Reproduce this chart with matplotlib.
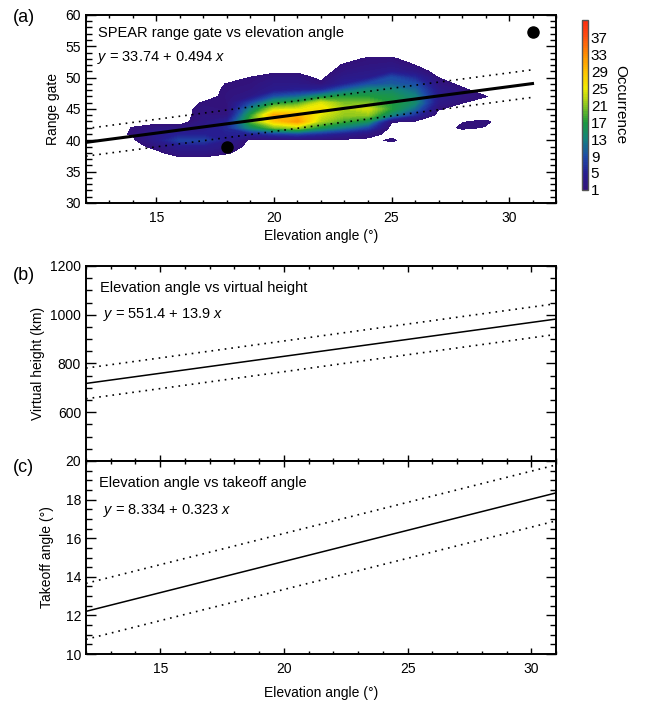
import numpy as np
import matplotlib
matplotlib.use("Agg")
import matplotlib.pyplot as plt
from matplotlib.colors import LinearSegmentedColormap
from matplotlib.ticker import MultipleLocator

plt.rcParams['font.family'] = ['Liberation Sans', 'DejaVu Sans']
plt.rcParams['mathtext.fontset'] = 'custom'
plt.rcParams['mathtext.it'] = 'Liberation Sans:italic'
plt.rcParams['mathtext.rm'] = 'Liberation Sans'

# occurrence grid: one column per elevation angle, rows are range gates 36..54
elev_bins = np.arange(13, 31)
gate_bins = np.arange(36, 55)
occ_cols = [
    [0, 0, 0, 0, 0, 0, 0, 0, 0, 0, 0, 0, 0, 0, 0, 0, 0, 0, 0],                    # 13
    [0, 0, 0, 0, 0.6, 1.3, 1.1, 0, 0, 0, 0, 0, 0, 0, 0, 0, 0, 0, 0],              # 14
    [0, 0, 0.3, 1.8, 4, 4, 2, 0.2, 0, 0, 0, 0, 0, 0, 0, 0, 0, 0, 0],              # 15
    [0, 0.2, 2.5, 4, 8, 5, 2, 0, 0, 0, 0, 0, 0, 0, 0, 0, 0, 0, 0],                # 16
    [0, 0.2, 2.5, 4, 8, 5, 3, 2.5, 2, 1.8, 1.2, 0, 0, 0, 0, 0, 0, 0, 0],          # 17
    [0, 0, 1.2, 3, 4, 5, 6, 5, 2, 1.3, 1.5, 1.6, 1.4, 1.1, 0, 0, 0, 0, 0],        # 18
    [0, 0, 0, 0, 0.4, 5, 14, 19, 17, 13, 8, 3, 2, 1.5, 1.1, 0, 0, 0, 0],          # 19
    [0, 0, 0, 0, 0.4, 7, 20, 28, 31, 23, 16, 9, 4, 3, 2, 0.6, 0, 0, 0],           # 20
    [0, 0, 0, 0, 0.4, 8, 22, 32, 30, 24, 18, 11, 5, 3, 2, 0.6, 0, 0, 0],          # 21
    [0, 0, 0, 0, 0.4, 6, 16, 22, 24, 26, 24, 15, 6, 1.5, 0.5, 0, 0, 0, 0],        # 22
    [0, 0, 0, 0, 0.4, 4, 12, 18, 21, 22, 20, 17, 11, 5, 3.5, 2, 1.2, 0.3, 0],     # 23
    [0, 0, 0, 0, 0.4, 2, 8, 15, 21, 24, 20, 17, 14, 9, 4, 3, 2, 1.3, 0],          # 24
    [0, 0, 0, 0, 1.3, 0.3, 0, 1.2, 13, 17, 17, 16, 14, 10, 9, 4, 2.5, 1.3, 0],    # 25
    [0, 0, 0, 0, 0, 0, 0, 0.8, 6, 11, 14, 13, 11, 9, 6, 2.5, 1.0, 0.2, 0],        # 26
    [0, 0, 0, 0, 0, 0, 0, 0, 0, 1.2, 3, 4, 3.5, 2, 1.0, 0, 0, 0, 0],              # 27
    [0, 0, 0, 0, 0, 0, 1.3, 0.9, 0, 0, 1.1, 2, 1.5, 0.5, 0, 0, 0, 0, 0],          # 28
    [0, 0, 0, 0, 0, 0, 0.9, 1.3, 0, 0, 0, 1.1, 0, 0, 0, 0, 0, 0, 0],              # 29
    [0, 0, 0, 0, 0, 0, 0, 0, 0, 0, 0, 0, 0, 0, 0, 0, 0, 0, 0],                    # 30
]
outlier_elev = [18, 31]
outlier_gate = [39, 57.2]

# linear fits (intercept, slope, half-width of dotted band)
fit_a = (33.74, 0.494, 2.2)
fit_b = (551.4, 13.9, 63)
fit_c = (8.334, 0.323, 1.45)
fit_x = [12, 31]

cbar_ticks = [1, 5, 9, 13, 17, 21, 25, 29, 33, 37]

cmap = LinearSegmentedColormap.from_list("occ", [
    (0.0, '#33127a'), (0.1, '#261e92'), (0.2, '#1c4ca8'), (0.3, '#12837c'),
    (0.4, '#1c9a3c'), (0.5, '#8ec81e'), (0.6, '#f2ec00'), (0.7, '#ffc000'),
    (0.8, '#ff8c00'), (0.9, '#ff5010'), (1.0, '#ff2a10')])

fig = plt.figure(figsize=(6.46, 7.05), dpi=100)
ax_a = fig.add_axes([0.1331, 0.7121, 0.7276, 0.2667])
ax_b = fig.add_axes([0.1331, 0.3461, 0.7276, 0.2766])
ax_c = fig.add_axes([0.1331, 0.0723, 0.7276, 0.2738])
cax = fig.add_axes([0.9009, 0.7305, 0.0093, 0.2411])

fs = 10
fs_txt = 10.5


def style(ax):
    for s in ax.spines.values():
        s.set_linewidth(1.4)
    ax.tick_params(which='both', direction='in', top=True, right=True,
                   labelsize=fs, width=1.0)
    ax.tick_params(axis='y', which='major', length=7)
    ax.tick_params(axis='y', which='minor', length=4)
    ax.tick_params(axis='x', which='major', length=4.5, pad=6)
    ax.tick_params(axis='x', which='minor', length=2.5)


def fit_lines(ax, fit, lw):
    a, b, d = fit
    xs = np.array(fit_x, dtype=float)
    ax.plot(xs, a + b * xs, color='black', lw=lw, zorder=3)
    ax.plot(xs, a + b * xs + d, color='black', lw=1.2, ls=(0, (1, 3)), zorder=3)
    ax.plot(xs, a + b * xs - d, color='black', lw=1.2, ls=(0, (1, 3)), zorder=3)


# (a)
Z = np.array(occ_cols).T
levels = np.linspace(1, 41, 81)
cf = ax_a.contourf(elev_bins, gate_bins, Z, levels=levels, cmap=cmap, zorder=1)
fit_lines(ax_a, fit_a, 2.2)
ax_a.plot(outlier_elev, outlier_gate, 'o', color='black', ms=8, clip_on=False, zorder=4)
ax_a.set_xlim(12, 32)
ax_a.set_ylim(30, 60)
ax_a.xaxis.set_major_locator(MultipleLocator(5))
ax_a.xaxis.set_minor_locator(MultipleLocator(1))
ax_a.yaxis.set_major_locator(MultipleLocator(5))
ax_a.yaxis.set_minor_locator(MultipleLocator(1))
style(ax_a)
ax_a.set_xlabel('Elevation angle (°)', fontsize=fs, labelpad=3)
ax_a.set_ylabel('Range gate', fontsize=fs, labelpad=4)
ax_a.text(0.025, 0.905, 'SPEAR range gate vs elevation angle', transform=ax_a.transAxes,
          fontsize=fs_txt, va='center')
ax_a.text(0.023, 0.775, '$y$ = 33.74 + 0.494 $x$', transform=ax_a.transAxes,
          fontsize=fs_txt, va='center')

cb = fig.colorbar(cf, cax=cax, ticks=cbar_ticks)
cb.outline.set_edgecolor('#555555')
cb.outline.set_linewidth(1.0)
cax.tick_params(labelsize=fs + 1, length=0, pad=2)
cb.set_label('Occurrence', rotation=-90, fontsize=fs + 1, labelpad=14)

# (b)
fit_lines(ax_b, fit_b, 1.1)
ax_b.set_xlim(12, 31)
ax_b.set_ylim(400, 1200)
ax_b.set_yticks([600, 800, 1000, 1200])
ax_b.yaxis.set_minor_locator(MultipleLocator(50))
ax_b.xaxis.set_major_locator(MultipleLocator(5))
ax_b.xaxis.set_minor_locator(MultipleLocator(1))
style(ax_b)
ax_b.tick_params(axis='x', labelbottom=False)
ax_b.set_ylabel('Virtual height (km)', fontsize=fs, labelpad=4)
ax_b.text(0.03, 0.885, 'Elevation angle vs virtual height', transform=ax_b.transAxes,
          fontsize=fs_txt, va='center')
ax_b.text(0.037, 0.75, '$y$ = 551.4 + 13.9 $x$', transform=ax_b.transAxes,
          fontsize=fs_txt, va='center')

# (c)
fit_lines(ax_c, fit_c, 1.1)
ax_c.set_xlim(12, 31)
ax_c.set_ylim(10, 20)
ax_c.yaxis.set_major_locator(MultipleLocator(2))
ax_c.yaxis.set_minor_locator(MultipleLocator(0.5))
ax_c.xaxis.set_major_locator(MultipleLocator(5))
ax_c.xaxis.set_minor_locator(MultipleLocator(1))
style(ax_c)
ax_c.set_xlabel('Elevation angle (°)', fontsize=fs, labelpad=7)
ax_c.set_ylabel('Takeoff angle (°)', fontsize=fs, labelpad=8)
ax_c.text(0.027, 0.885, 'Elevation angle vs takeoff angle', transform=ax_c.transAxes,
          fontsize=fs_txt, va='center')
ax_c.text(0.036, 0.745, '$y$ = 8.334 + 0.323 $x$', transform=ax_c.transAxes,
          fontsize=fs_txt, va='center')

for lab, ypx in [('(a)', 17), ('(b)', 275), ('(c)', 467)]:
    fig.text(13 / 646, 1 - ypx / 705, lab, fontsize=13, va='center', ha='left')

fig.savefig('out.png', dpi=100)
